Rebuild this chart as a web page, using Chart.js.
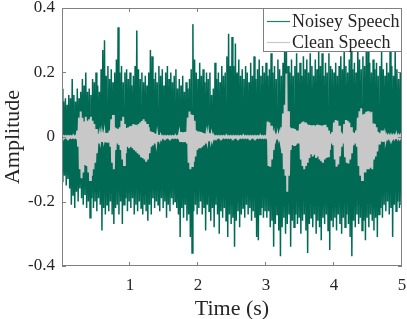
<!DOCTYPE html>
<html>
<head>
<meta charset="utf-8">
<script src="https://cdn.jsdelivr.net/npm/chart.js@4.4.1/dist/chart.umd.min.js"></script>
<style>
  html, body { margin: 0; padding: 0; background: #fff; }
</style>
</head>
<body>
<canvas id="wave" width="407" height="319"></canvas>
<script>
// envelope, one column every DT seconds (0 .. 5 s)
const DT = 0.025;

const noisyHi = [
  0.15, 0.11, 0.12, 0.10, 0.13, 0.12, 0.18, 0.13, 0.11, 0.15,
  0.12, 0.14, 0.18, 0.16, 0.20, 0.14, 0.15, 0.13, 0.18, 0.17,
  0.20, 0.16, 0.14, 0.21, 0.27, 0.30, 0.19, 0.22, 0.18, 0.21,
  0.17, 0.20, 0.24, 0.34, 0.20, 0.22, 0.17, 0.20, 0.21, 0.18,
  0.20, 0.16, 0.19, 0.22, 0.33, 0.21, 0.18, 0.20, 0.17, 0.19,
  0.16, 0.20, 0.27, 0.25, 0.18, 0.20, 0.17, 0.22, 0.19, 0.21,
  0.16, 0.20, 0.22, 0.18, 0.20, 0.17, 0.19, 0.21, 0.15, 0.18,
  0.16, 0.19, 0.14, 0.17, 0.15, 0.18, 0.21, 0.35, 0.24, 0.20,
  0.18, 0.23, 0.19, 0.21, 0.17, 0.20, 0.18, 0.20, 0.13, 0.15,
  0.23, 0.18, 0.20, 0.17, 0.22, 0.19, 0.20, 0.25, 0.32, 0.22,
  0.31, 0.22, 0.29, 0.20, 0.24, 0.19, 0.21, 0.18, 0.22, 0.20,
  0.17, 0.23, 0.19, 0.25, 0.18, 0.21, 0.24, 0.19, 0.22, 0.20,
  0.23, 0.19, 0.21, 0.26, 0.20, 0.22, 0.18, 0.24, 0.21, 0.19,
  0.23, 0.30, 0.28, 0.22, 0.20, 0.24, 0.19, 0.22, 0.26, 0.20,
  0.23, 0.19, 0.25, 0.21, 0.24, 0.20, 0.26, 0.22, 0.19, 0.24,
  0.21, 0.27, 0.22, 0.26, 0.19, 0.23, 0.20, 0.26, 0.22, 0.21,
  0.20, 0.23, 0.19, 0.22, 0.25, 0.21, 0.28, 0.22, 0.20, 0.24,
  0.27, 0.21, 0.23, 0.20, 0.28, 0.24, 0.21, 0.25, 0.22, 0.27,
  0.29, 0.23, 0.20, 0.24, 0.21, 0.23, 0.19, 0.22, 0.28, 0.21,
  0.19, 0.23, 0.20, 0.28, 0.22, 0.19, 0.27, 0.21, 0.18, 0.20,
  0.17
];

const noisyLo = [
  -0.14, -0.12, -0.15, -0.13, -0.16, -0.21, -0.18, -0.22, -0.17, -0.20,
  -0.16, -0.19, -0.21, -0.18, -0.22, -0.20, -0.25, -0.19, -0.22, -0.20,
  -0.23, -0.19, -0.21, -0.29, -0.22, -0.24, -0.21, -0.23, -0.20, -0.24,
  -0.27, -0.22, -0.21, -0.24, -0.20, -0.27, -0.21, -0.19, -0.23, -0.20,
  -0.22, -0.19, -0.24, -0.21, -0.23, -0.20, -0.22, -0.24, -0.21, -0.23,
  -0.26, -0.21, -0.24, -0.19, -0.22, -0.20, -0.21, -0.23, -0.19, -0.22,
  -0.20, -0.25, -0.21, -0.23, -0.19, -0.21, -0.20, -0.22, -0.24, -0.31,
  -0.22, -0.25, -0.21, -0.26, -0.24, -0.31, -0.36, -0.23, -0.21, -0.24,
  -0.22, -0.20, -0.24, -0.22, -0.29, -0.21, -0.23, -0.26, -0.22, -0.28,
  -0.21, -0.24, -0.30, -0.23, -0.25, -0.22, -0.26, -0.31, -0.24, -0.27,
  -0.25, -0.34, -0.26, -0.23, -0.28, -0.24, -0.22, -0.25, -0.21, -0.24,
  -0.22, -0.26, -0.23, -0.25, -0.31, -0.32, -0.24, -0.22, -0.25, -0.23,
  -0.25, -0.23, -0.28, -0.26, -0.34, -0.27, -0.24, -0.29, -0.37, -0.28,
  -0.25, -0.30, -0.27, -0.24, -0.34, -0.26, -0.28, -0.24, -0.27, -0.25,
  -0.30, -0.26, -0.24, -0.29, -0.36, -0.27, -0.25, -0.28, -0.24, -0.30,
  -0.26, -0.28, -0.32, -0.25, -0.27, -0.24, -0.29, -0.35, -0.26, -0.28,
  -0.25, -0.29, -0.24, -0.27, -0.30, -0.25, -0.28, -0.24, -0.27, -0.31,
  -0.37, -0.26, -0.28, -0.24, -0.27, -0.25, -0.29, -0.26, -0.32, -0.25,
  -0.28, -0.24, -0.26, -0.29, -0.25, -0.31, -0.24, -0.22, -0.25, -0.21,
  -0.23, -0.20, -0.24, -0.22, -0.31, -0.21, -0.23, -0.20, -0.22, -0.21,
  -0.19
];

const cleanHi = [
  0.002, 0.002, 0.002, 0.002, 0.002, 0.002, 0.002, 0.002, 0.002, 0.020,
  0.060, 0.079, 0.060, 0.048, 0.063, 0.050, 0.055, 0.063, 0.050, 0.040,
  0.025, 0.010, 0.006, 0.010, 0.006, 0.012, 0.012, 0.013, 0.020, 0.055,
  0.068, 0.030, 0.027, 0.025, 0.030, 0.050, 0.063, 0.040, 0.028, 0.030,
  0.033, 0.035, 0.040, 0.038, 0.035, 0.040, 0.045, 0.050, 0.055, 0.048,
  0.040, 0.030, 0.018, 0.015, 0.012, 0.010, 0.008, 0.006, 0.004, 0.002,
  0.002, 0.002, 0.002, 0.002, 0.002, 0.002, 0.002, 0.002, 0.002, 0.012,
  0.015, 0.014, 0.015, 0.016, 0.060, 0.079, 0.070, 0.068, 0.050, 0.020,
  0.017, 0.016, 0.015, 0.012, 0.010, 0.008, 0.012, 0.012, 0.008, 0.004,
  0.002, 0.002, 0.002, 0.002, 0.002, 0.002, 0.002, 0.002, 0.002, 0.002,
  0.002, 0.002, 0.002, 0.002, 0.002, 0.002, 0.002, 0.002, 0.002, 0.002,
  0.002, 0.002, 0.002, 0.002, 0.002, 0.002, 0.002, 0.002, 0.002, 0.002,
  0.002, 0.048, 0.045, 0.035, 0.020, 0.006, 0.004, 0.005, 0.008, 0.030,
  0.073, 0.100, 0.197, 0.080, 0.030, 0.027, 0.027, 0.025, 0.020, 0.020,
  0.040, 0.045, 0.048, 0.045, 0.040, 0.038, 0.037, 0.036, 0.037, 0.035,
  0.038, 0.037, 0.036, 0.035, 0.037, 0.038, 0.030, 0.020, 0.010, 0.015,
  0.045, 0.053, 0.050, 0.035, 0.015, 0.010, 0.040, 0.053, 0.050, 0.045,
  0.030, 0.015, 0.012, 0.020, 0.060, 0.080, 0.089, 0.070, 0.072, 0.078,
  0.080, 0.075, 0.078, 0.042, 0.040, 0.030, 0.015, 0.012, 0.020, 0.020,
  0.008, 0.004, 0.004, 0.004, 0.004, 0.004, 0.004, 0.004, 0.004, 0.004,
  0.004
];

const cleanLo = [
  -0.002, -0.002, -0.002, -0.002, -0.002, -0.002, -0.002, -0.002, -0.002, -0.030,
  -0.100, -0.128, -0.110, -0.087, -0.090, -0.110, -0.133, -0.120, -0.100, -0.080,
  -0.050, -0.020, -0.012, -0.015, -0.010, -0.016, -0.015, -0.016, -0.030, -0.080,
  -0.100, -0.040, -0.020, -0.025, -0.040, -0.070, -0.087, -0.050, -0.030, -0.035,
  -0.030, -0.035, -0.040, -0.045, -0.050, -0.055, -0.060, -0.065, -0.070, -0.077,
  -0.070, -0.050, -0.030, -0.025, -0.020, -0.016, -0.012, -0.008, -0.005, -0.002,
  -0.002, -0.002, -0.002, -0.002, -0.002, -0.002, -0.002, -0.002, -0.002, -0.015,
  -0.015, -0.016, -0.015, -0.020, -0.080, -0.100, -0.090, -0.077, -0.060, -0.040,
  -0.035, -0.035, -0.030, -0.025, -0.020, -0.012, -0.010, -0.010, -0.008, -0.004,
  -0.002, -0.002, -0.002, -0.002, -0.002, -0.002, -0.002, -0.002, -0.002, -0.002,
  -0.002, -0.002, -0.002, -0.002, -0.002, -0.002, -0.002, -0.002, -0.002, -0.002,
  -0.002, -0.002, -0.002, -0.002, -0.002, -0.002, -0.002, -0.002, -0.002, -0.002,
  -0.002, -0.090, -0.092, -0.070, -0.040, -0.008, -0.005, -0.006, -0.010, -0.050,
  -0.100, -0.120, -0.170, -0.120, -0.040, -0.025, -0.025, -0.025, -0.020, -0.020,
  -0.070, -0.090, -0.100, -0.090, -0.080, -0.065, -0.050, -0.060, -0.055, -0.065,
  -0.060, -0.070, -0.075, -0.080, -0.070, -0.065, -0.060, -0.040, -0.020, -0.025,
  -0.070, -0.092, -0.085, -0.060, -0.030, -0.020, -0.060, -0.080, -0.082, -0.070,
  -0.050, -0.025, -0.020, -0.030, -0.090, -0.120, -0.133, -0.110, -0.110, -0.100,
  -0.100, -0.095, -0.100, -0.070, -0.060, -0.045, -0.020, -0.012, -0.015, -0.014,
  -0.008, -0.004, -0.004, -0.004, -0.004, -0.004, -0.004, -0.004, -0.004, -0.004,
  -0.004
];

const X_TICKS = [1, 2, 3, 4, 5];
const Y_TICKS = [-0.4, -0.2, 0, 0.2, 0.4];

const GREEN = '#006a55';
const GREY = '#c8c8c8';
const AXIS = '#808080';
const INK = '#262626';
const SERIF = "'Liberation Serif', 'Times New Roman', serif";

// each column becomes a stroke from its top to its bottom
function toWave(hi, lo) {
  const pts = [];
  hi.forEach((h, i) => {
    pts.push({ x: i * DT, y: h });
    pts.push({ x: i * DT + DT / 2, y: lo[i] });
  });
  return pts;
}

// no automatic room for edge labels: the plot box is fixed
function fixBox(s) {
  s.paddingTop = 0;
  s.paddingBottom = 0;
  s.paddingLeft = 0;
  s.paddingRight = 0;
}

const frame = {
  id: 'frame',
  afterDraw(c) {
    const { ctx, chartArea: a, scales: { x, y } } = c;
    ctx.save();
    ctx.strokeStyle = AXIS;
    ctx.lineWidth = 1;
    ctx.strokeRect(a.left + 0.5, a.top + 0.5, a.right - a.left - 1, a.bottom - a.top - 1);
    ctx.beginPath();
    X_TICKS.forEach(v => {
      const px = Math.round(x.getPixelForValue(v)) - 0.5;
      ctx.moveTo(px, a.bottom); ctx.lineTo(px, a.bottom - 4);
      ctx.moveTo(px, a.top); ctx.lineTo(px, a.top + 4);
    });
    Y_TICKS.forEach(v => {
      const py = Math.round(y.getPixelForValue(v)) + 0.5;
      ctx.moveTo(a.left, py); ctx.lineTo(a.left + 4, py);
      ctx.moveTo(a.right, py); ctx.lineTo(a.right - 4, py);
    });
    ctx.stroke();

    // axis titles
    ctx.fillStyle = INK;
    ctx.font = '22px ' + SERIF;
    ctx.textAlign = 'center';
    ctx.textBaseline = 'alphabetic';
    ctx.fillText('Time (s)', (a.left + a.right) / 2, 315);
    ctx.save();
    ctx.translate(19, (a.top + a.bottom) / 2);
    ctx.rotate(-Math.PI / 2);
    ctx.fillText('Amplitude', 0, 0);
    ctx.restore();

    // legend box, top right
    const lx = 263, ly = a.top, lw = a.right - 263, lh = 44;
    ctx.fillStyle = '#fff';
    ctx.fillRect(lx, ly, lw, lh);
    ctx.strokeStyle = AXIS;
    ctx.strokeRect(lx + 0.5, ly + 0.5, lw - 1, lh - 1);
    const items = [
      { text: 'Noisey Speech', color: '#1f7f6a', yy: 21 },
      { text: 'Clean Speech', color: GREY, yy: 42 },
    ];
    ctx.font = '18px ' + SERIF;
    ctx.textAlign = 'left';
    items.forEach(it => {
      ctx.strokeStyle = it.color;
      ctx.lineWidth = 1.2;
      ctx.beginPath();
      ctx.moveTo(267, it.yy + 0.5);
      ctx.lineTo(290, it.yy + 0.5);
      ctx.stroke();
      ctx.fillStyle = INK;
      ctx.fillText(it.text, 292, it.yy + 6);
    });
    ctx.restore();
  }
};

new Chart(document.getElementById('wave'), {
  type: 'line',
  data: {
    datasets: [
      {
        label: 'Noisey Speech',
        data: toWave(noisyHi, noisyLo),
        borderColor: GREEN,
        borderWidth: 1.5,
        pointRadius: 0,
        tension: 0,
        order: 2,
      },
      {
        label: 'Clean Speech',
        data: toWave(cleanHi, cleanLo),
        borderColor: GREY,
        borderWidth: 2,
        pointRadius: 0,
        tension: 0,
        order: 1,
      }
    ]
  },
  options: {
    responsive: false,
    animation: false,
    events: [],
    layout: { padding: { left: 0, right: 5, top: 8, bottom: 0 } },
    plugins: { legend: { display: false }, tooltip: { enabled: false } },
    scales: {
      x: {
        type: 'linear',
        min: 0,
        max: 5,
        afterFit: s => { s.height = 53; fixBox(s); },
        afterBuildTicks: s => { s.ticks = X_TICKS.map(v => ({ value: v })); },
        grid: { display: false, drawTicks: false },
        border: { display: false },
        ticks: { color: INK, padding: 9, font: { family: SERIF, size: 17 }, maxRotation: 0 },
      },
      y: {
        min: -0.4,
        max: 0.4,
        afterFit: s => { s.width = 62; fixBox(s); },
        afterBuildTicks: s => { s.ticks = Y_TICKS.map(v => ({ value: v })); },
        grid: { display: false, drawTicks: false },
        border: { display: false },
        ticks: {
          color: INK,
          padding: 7,
          font: { family: SERIF, size: 17 },
          callback: v => String(Math.round(v * 10) / 10),
        },
      }
    }
  },
  plugins: [frame]
});
</script>
</body>
</html>
